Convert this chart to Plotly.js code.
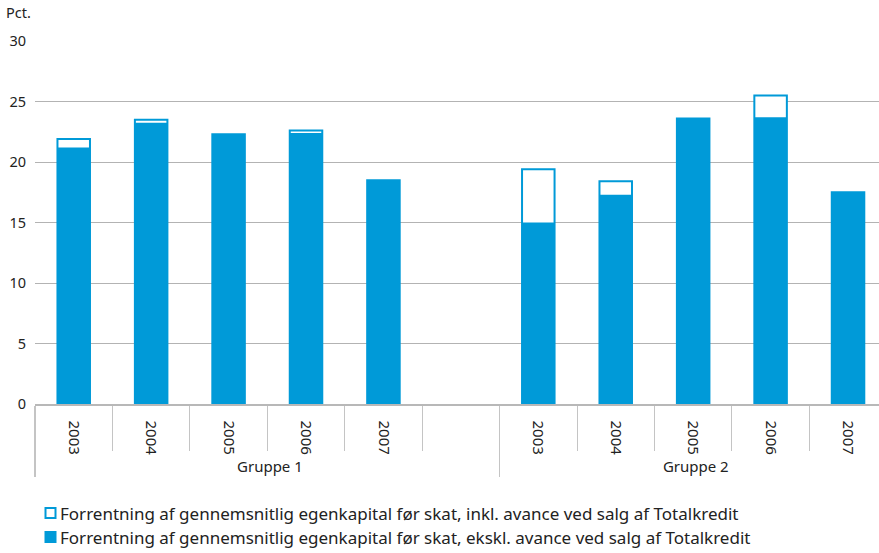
<!DOCTYPE html>
<html>
<head>
<meta charset="utf-8">
<script src="https://cdn.plot.ly/plotly-3.0.1.min.js"></script>
<style>html,body{margin:0;padding:0;background:#fff;}#chart{width:879px;height:553px;}</style>
</head>
<body>
<div id="chart"></div>
<script>
const groups = ['Gruppe 1','Gruppe 1','Gruppe 1','Gruppe 1','Gruppe 1','Gruppe 1','Gruppe 2','Gruppe 2','Gruppe 2','Gruppe 2','Gruppe 2'];
const years = ['2003','2004','2005','2006','2007',' ','2003','2004','2005','2006','2007'];
const inklValues = [21.9, 23.5, 22.3, 22.6, 18.5, null, 19.4, 18.4, 23.6, 25.5, 17.5];
const eksklValues = [21.2, 23.25, 22.3, 22.4, 18.5, null, 15.0, 17.3, 23.6, 23.7, 17.5];
const inklName = 'Forrentning af gennemsnitlig egenkapital før skat, inkl. avance ved salg af Totalkredit';
const eksklName = 'Forrentning af gennemsnitlig egenkapital før skat, ekskl. avance ved salg af Totalkredit';

const blue = '#009ad8';
const textColor = '#222';
const font = 'Noto Sans, Open Sans, sans-serif';

// plot area geometry (pixels) used to place the hand-made legend in paper coords
const L = 35, T = 41, W = 844, H = 363;
const px = p => (p - L) / W;
const py = p => (T + H - p) / H;

const traces = [
  {type:'bar', x:[groups, years], y:inklValues, name:inklName, showlegend:false,
   marker:{color:'#ffffff', line:{color:blue, width:2}}, width:0.42, hoverinfo:'skip'},
  {type:'bar', x:[groups, years], y:eksklValues, name:eksklName, showlegend:false,
   marker:{color:blue, line:{width:0}}, width:0.42, hoverinfo:'skip'}
];

const legendRows = [
  {name:inklName, yc:513, fill:'#ffffff'},
  {name:eksklName, yc:537, fill:blue}
];

const shapes = legendRows.map(r => ({
  type:'rect', xref:'paper', yref:'paper',
  x0:px(45.5), x1:px(55.5), y0:py(r.yc - 5), y1:py(r.yc + 5),
  fillcolor:r.fill, line:{color:blue, width:2}
}));

const annotations = legendRows.map(r => ({
  xref:'paper', yref:'paper', x:px(58), y:py(r.yc), xanchor:'left', yanchor:'middle',
  text:r.name, showarrow:false, font:{family:font, size:17, color:textColor}
}));
annotations.push({xref:'paper', yref:'paper', x:px(4), y:py(12), xanchor:'left', yanchor:'middle',
  text:'Pct.', showarrow:false, font:{family:font, size:14.5, color:textColor}});

const layout = {
  width:879, height:553,
  margin:{l:L, r:879 - L - W, t:T, b:553 - T - H},
  paper_bgcolor:'#fff', plot_bgcolor:'#fff',
  barmode:'overlay',
  font:{family:font, size:14, color:textColor},
  showlegend:false,
  xaxis:{type:'multicategory', range:[-0.5, 10.4],
         tickangle:90, tickfont:{family:font, size:15, color:textColor},
         ticks:'outside', tickson:'boundaries', ticklen:45, tickcolor:'#c4c4c4', tickwidth:1,
         ticklabelstandoff:12,
         showdividers:true, dividercolor:'#c4c4c4', dividerwidth:1.2,
         showline:true, linecolor:'#b8b8b8', linewidth:1.5, showgrid:false, zeroline:false},
  yaxis:{range:[0,30], dtick:5, tick0:0, showgrid:true, gridcolor:'#b3b3b3', gridwidth:1,
         zeroline:false, showline:false, ticks:'', tickfont:{family:font, size:14.5, color:textColor},
         ticklabelstandoff:8},
  shapes:shapes,
  annotations:annotations
};

Plotly.newPlot('chart', traces, layout, {displayModeBar:false, staticPlot:true});
</script>
</body>
</html>
